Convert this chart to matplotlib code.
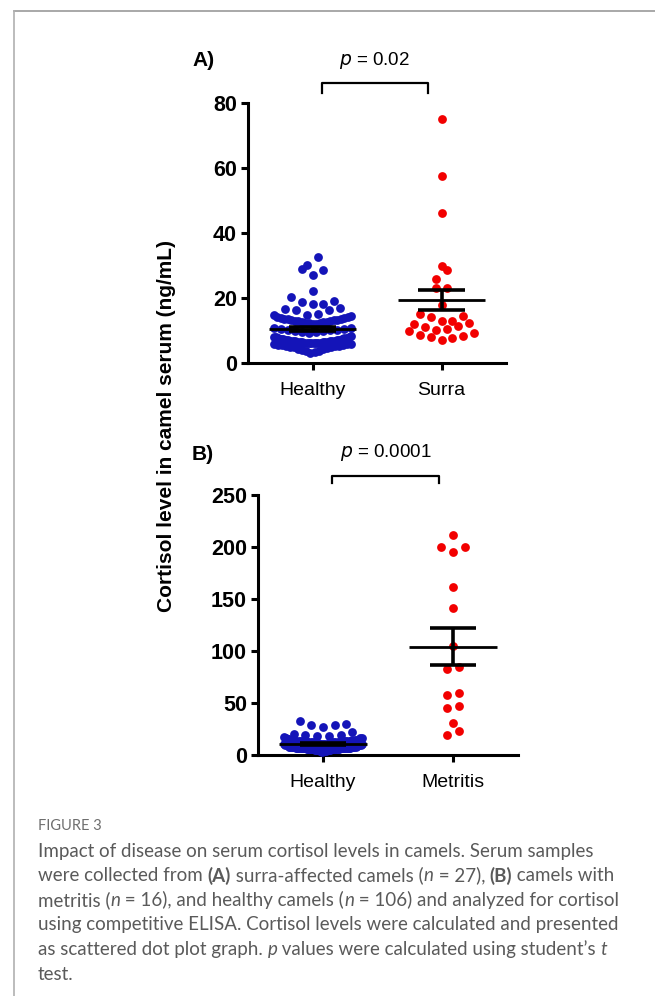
import matplotlib
matplotlib.use('Agg')
import matplotlib.pyplot as plt
from matplotlib.lines import Line2D
import numpy as np

plt.rcParams['font.family'] = ['Liberation Sans', 'DejaVu Sans']

W, H = 655, 996

# data (ng/mL)
healthy = [32.5, 30.2, 28.8, 28.5, 27.0, 22.3, 20.2, 19.1, 18.9, 18.2,
           18.0, 17.0, 16.5, 16.3, 16.2, 15.0, 14.8, 14.7, 14.5, 14.3,
           14.0, 13.9, 13.7, 13.6, 13.5, 13.4, 13.3, 13.2, 13.1, 13.0,
           12.9, 12.8, 12.7, 12.6, 12.5, 12.4, 12.3, 12.2, 12.1, 12.0,
           10.9, 10.7, 10.5, 10.4, 10.2, 10.1, 10.0, 9.9, 9.7, 9.6,
           9.4, 9.2,
           8.2, 8.1, 8.0, 7.9, 7.8, 7.7, 7.6, 7.5, 7.4, 7.3, 7.2, 7.1,
           7.0, 7.0, 6.9, 6.9, 6.8, 6.8, 6.7, 6.7, 6.6, 6.6, 6.5, 6.5,
           6.4, 6.4, 6.3, 6.3, 6.2, 6.2, 6.1, 6.1, 6.0, 6.0,
           5.9, 5.8, 5.7, 5.6, 5.5, 5.4, 5.3, 5.2, 5.1, 5.0, 4.9, 4.8,
           4.6, 4.4, 4.2, 4.0, 3.8, 3.6, 3.4, 3.2]
surra = [75.0, 57.5, 46.0, 29.8, 28.5, 25.8, 23.0, 23.0, 17.8, 15.0,
         14.5, 14.3, 13.0, 13.0, 12.3, 12.0, 11.5, 11.0, 10.5, 10.0,
         9.7, 9.3, 8.7, 8.3, 8.0, 7.7, 7.2]
metritis = [211.5, 200.3, 200.3, 195.5, 161.9, 141.7, 104.8, 84.9, 82.7,
            59.9, 57.7, 47.4, 44.9, 30.4, 23.4, 19.2]

BLUE = '#1414B8'
RED = '#F20000'


def swarm(values, binh, dx, halfw):
    """GraphPad-like dot layout: rows of close values, lowest in the middle"""
    vals = np.sort(np.asarray(values, dtype=float))
    xs = np.zeros(len(vals))
    i = 0
    while i < len(vals):
        j = i
        while j < len(vals) and vals[j] - vals[i] < binh:
            j += 1
        n = j - i
        step = dx if n < 2 else min(dx, 2 * halfw / (n - 1))
        for k in range(n):
            if n % 2:
                m = ((k + 1) // 2) * (1 if k % 2 else -1)
            else:
                m = (k // 2 + 0.5) * (-1 if k % 2 == 0 else 1)
            xs[i + k] = m * step
        i = j
    return vals, xs


def mean_sem(ax, vals, x, mw=0.34, cw=0.18):
    m = np.mean(vals)
    s = np.std(vals, ddof=1) / np.sqrt(len(vals))
    ax.hlines(m, x - mw, x + mw, color='k', lw=2.0, zorder=4)
    ax.hlines([m - s, m + s], x - cw, x + cw, color='k', lw=2.6, zorder=4)
    ax.vlines(x, m - s, m + s, color='k', lw=2.6, zorder=4)


def style_axes(ax, ymax, step, labels):
    ax.set_xlim(0.5, 2.5)
    ax.set_ylim(0, ymax)
    ax.set_yticks(np.arange(0, ymax + 1, step))
    ax.set_xticks([1, 2])
    ax.set_xticklabels(labels, fontsize=14)
    for lab in ax.get_yticklabels():
        lab.set_fontweight('bold')
        lab.set_fontsize(15.5)
    for sp in ['top', 'right']:
        ax.spines[sp].set_visible(False)
    for sp in ['left', 'bottom']:
        ax.spines[sp].set_linewidth(2.2)
    ax.tick_params(width=2.2, length=5, pad=3)
    ax.tick_params(axis='x', pad=9)


def bracket(ax, x0, x1, ytop, ybot, label):
    tr = ax.get_xaxis_transform()
    ax.plot([x0, x0, x1, x1], [ybot, ytop, ytop, ybot], color='k', lw=1.6,
            transform=tr, clip_on=False)
    ax.text((x0 + x1) / 2, 1.165, label, transform=tr, ha='center',
            va='center', fontsize=13.5)


fig = plt.figure(figsize=(W / 100, H / 100), dpi=100)

# panel A
axA = fig.add_axes([248 / W, 1 - 363 / H, 258 / W, 260 / H])
for i, (grp, col) in enumerate([(healthy, BLUE), (surra, RED)]):
    v, dx = swarm(grp, 2.8, 0.085, 0.30)
    axA.scatter(1 + i + dx, v, s=40, color=col, lw=0, zorder=3, clip_on=False)
    mean_sem(axA, grp, 1 + i)
style_axes(axA, 80, 20, ['Healthy', 'Surra'])
bracket(axA, 1.07, 1.895, 1.077, 1.038, '$\\it{p}$ = 0.02')
fig.text(192 / W, 1 - 60 / H, 'A)', fontsize=15, fontweight='bold', va='center')

# panel B
axB = fig.add_axes([258 / W, 1 - 755 / H, 260 / W, 260 / H])
for i, (grp, col) in enumerate([(healthy, BLUE), (metritis, RED)]):
    v, dx = swarm(grp, 7.0, 0.09, 0.30)
    axB.scatter(1 + i + dx, v, s=40, color=col, lw=0, zorder=3, clip_on=False)
    mean_sem(axB, grp, 1 + i)
style_axes(axB, 250, 50, ['Healthy', 'Metritis'])
bracket(axB, 1.07, 1.89, 1.073, 1.046, '$\\it{p}$ = 0.0001')
fig.text(192 / W, 1 - 454 / H, 'B)', fontsize=15, fontweight='bold', va='center')

fig.text(167 / W, 1 - 426 / H, 'Cortisol level in camel serum (ng/mL)',
         rotation=90, fontsize=15, fontweight='bold', ha='center', va='center')

# frame lines of the page
fig.add_artist(Line2D([14 / W, 1], [1 - 11 / H, 1 - 11 / H], color='#9a9a9a', lw=1.2))
fig.add_artist(Line2D([14 / W, 14 / W], [1 - 11 / H, 0], color='#b0b0b0', lw=1.2))

# caption
CAP = ['Lato', 'DejaVu Sans']
GREY = '#5a5a5a'
fig.text(38 / W, 1 - 826 / H, 'FIGURE 3', fontsize=10.5, color='#6e6e6e',
         family=CAP, va='center')

caption = [
    [('Impact of disease on serum cortisol levels in camels. Serum samples', '')],
    [('were collected from ', ''), ('(A)', 'b'), (' surra-affected camels (', ''),
     ('n', 'i'), (' = 27), ', ''), ('(B)', 'b'), (' camels with', '')],
    [('metritis (', ''), ('n', 'i'), (' = 16), and healthy camels (', ''),
     ('n', 'i'), (' = 106) and analyzed for cortisol', '')],
    [('using competitive ELISA. Cortisol levels were calculated and presented', '')],
    [('as scattered dot plot graph. ', ''), ('p', 'i'),
     (' values were calculated using student\u2019s ', ''), ('t', 'i')],
    [('test.', '')],
]
renderer = fig.canvas.get_renderer()
for row, segs in enumerate(caption):
    x = 38
    y = 851 + row * 24.6
    for txt, st in segs:
        t = fig.text(x / W, 1 - y / H, txt, fontsize=13.5, color=GREY, family=CAP,
                     va='center', ha='left',
                     weight='bold' if st == 'b' else 'normal',
                     style='italic' if st == 'i' else 'normal')
        x += t.get_window_extent(renderer).width

fig.savefig('out.png', dpi=100)
